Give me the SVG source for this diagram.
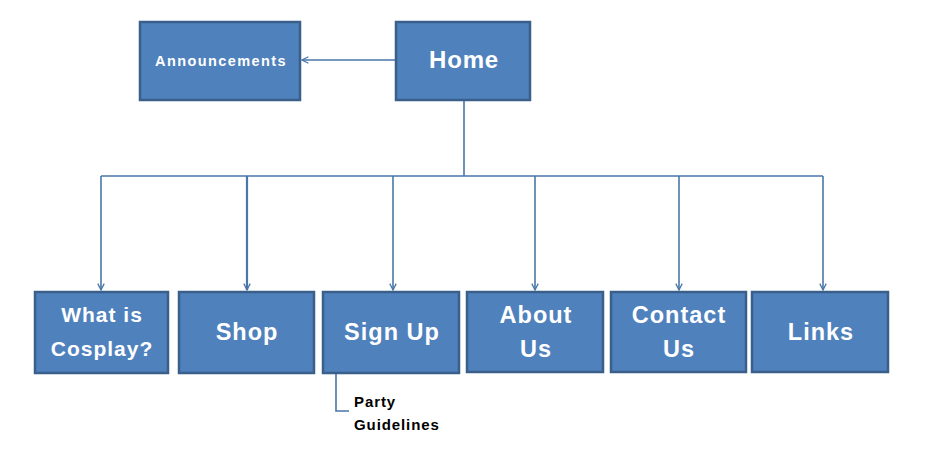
<svg xmlns="http://www.w3.org/2000/svg" width="929" height="459" viewBox="0 0 929 459">
<defs>
<style>
.box{fill:#4F81BD;stroke:#3A5F8B;stroke-width:2.5}
.t{fill:#fff;font-family:"Liberation Sans",Arial,sans-serif;font-weight:bold;text-anchor:middle;font-size:23.5px;letter-spacing:1px}
.c{stroke:#4A76A8;stroke-width:1.6;fill:none}
.lbl{fill:#000;font-family:"Liberation Sans",Arial,sans-serif;font-weight:bold;font-size:15px;letter-spacing:0.9px}
</style>
<marker id="ah" viewBox="0 0 10 10" refX="9" refY="5" markerWidth="8" markerHeight="8" markerUnits="userSpaceOnUse" orient="auto">
<path d="M1,1 L9,5 L1,9" fill="none" stroke="#4A76A8" stroke-width="1.6"/>
</marker>
</defs>
<rect width="929" height="459" fill="#fff"/>
<g id="connectors">
<line class="c" x1="396" y1="60" x2="302" y2="60" marker-end="url(#ah)"/>
<polyline class="c" points="464,101 464,176"/>
<line class="c" x1="101" y1="176" x2="823" y2="176"/>
<line class="c" x1="101" y1="176" x2="101" y2="290" marker-end="url(#ah)"/>
<line class="c" x1="247" y1="176" x2="247" y2="290" marker-end="url(#ah)" style="stroke-width:2.2"/>
<line class="c" x1="393" y1="176" x2="393" y2="290" marker-end="url(#ah)"/>
<line class="c" x1="535" y1="176" x2="535" y2="290" marker-end="url(#ah)"/>
<line class="c" x1="679" y1="176" x2="679" y2="290" marker-end="url(#ah)"/>
<line class="c" x1="823" y1="176" x2="823" y2="290" marker-end="url(#ah)"/>
<polyline class="c" points="336,374 336,411 349,411"/>
</g>
<g id="announcements"><rect class="box" x="140" y="22" width="160" height="78"/><text class="t" x="221" y="66" style="font-size:14.5px;letter-spacing:1.4px">Announcements</text></g>
<g id="home"><rect class="box" x="396" y="22" width="134" height="78"/><text class="t" x="464" y="68" style="font-size:24px;letter-spacing:0.8px">Home</text></g>
<g id="what-is-cosplay"><rect class="box" x="35" y="292" width="133" height="81"/><text class="t" x="102" y="322" style="font-size:21px">What is</text><text class="t" x="102" y="356" style="font-size:21px">Cosplay?</text></g>
<g id="shop"><rect class="box" x="179" y="292" width="135" height="81"/><text class="t" x="247" y="340">Shop</text></g>
<g id="sign-up"><rect class="box" x="323" y="292" width="136" height="81"/><text class="t" x="392" y="340">Sign Up</text></g>
<g id="about-us"><rect class="box" x="467" y="292" width="136" height="80"/><text class="t" x="536" y="323">About</text><text class="t" x="536" y="357">Us</text></g>
<g id="contact-us"><rect class="box" x="611" y="292" width="135" height="80"/><text class="t" x="679" y="323">Contact</text><text class="t" x="679" y="357">Us</text></g>
<g id="links"><rect class="box" x="752" y="292" width="136" height="80"/><text class="t" x="821" y="340">Links</text></g>
<g id="party-guidelines"><text class="lbl" x="354" y="407">Party</text><text class="lbl" x="354" y="430">Guidelines</text></g>
</svg>
